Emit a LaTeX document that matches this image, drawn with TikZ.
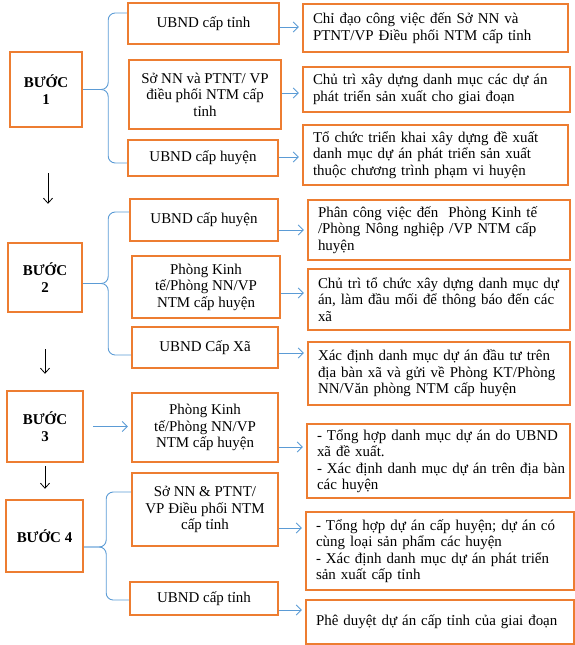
\documentclass[tikz,border=0pt]{standalone}
\usepackage{fontspec}
\setmainfont{Liberation Serif}
\usetikzlibrary{arrows.meta}
\definecolor{boxorange}{RGB}{237,125,49}
\definecolor{linkblue}{RGB}{91,155,213}
\newcommand\fullline[1]{\makebox[\hsize][s]{#1}}

\begin{document}
\begin{tikzpicture}[
    x=1bp, y=1bp,
    every node/.style={font=\fontsize{15}{16.5}\selectfont},
    box/.style={rectangle, draw=boxorange, line width=2.4bp, align=center, inner sep=0pt},
    stepbox/.style={box, font=\fontsize{15}{17}\selectfont\bfseries},
    task/.style={box, align=left, inner xsep=10bp},
    link/.style={draw=linkblue, line width=0.9bp, rounded corners=7bp},
    go/.style={link, -{Straight Barb[length=5bp,width=10bp]}, shorten >=3bp},
    down/.style={draw=black, line width=0.8bp, -{Straight Barb[length=5bp,width=9bp]}}
]
  \useasboundingbox (0,0) rectangle (575,-645);

  % steps
  \node[stepbox, minimum width=72bp, minimum height=75bp] (s1) at (46,-89.5) {BƯỚC\\1};
  \node[stepbox, minimum width=74bp, minimum height=69bp] (s2) at (45,-277.5) {BƯỚC\\2};
  \node[stepbox, minimum width=76bp, minimum height=71bp] (s3) at (45,-426.5) {BƯỚC\\3};
  \node[stepbox, minimum width=77bp, minimum height=72bp] (s4) at (44.5,-536) {BƯỚC 4};

  % who
  \node[box, minimum width=151bp, minimum height=41bp] (a1) at (203.5,-23.5) {UBND cấp tỉnh};
  \node[box, minimum width=152bp, minimum height=69bp] (a2) at (205,-94.5) {Sở NN và PTNT/ VP\\điều phối NTM cấp\\tỉnh};
  \node[box, minimum width=150bp, minimum height=36bp] (a3) at (203,-158) {UBND cấp huyện};
  \node[box, minimum width=148bp, minimum height=42bp] (b1) at (204,-220) {UBND cấp huyện};
  \node[box, minimum width=148bp, minimum height=62bp] (b2) at (206,-287) {Phòng Kinh\\tế/Phòng NN/VP\\NTM cấp huyện};
  \node[box, minimum width=146bp, minimum height=41bp] (b3) at (205,-347.5) {UBND Cấp Xã};
  \node[box, minimum width=146bp, minimum height=69bp] (c1) at (205,-427.5) {Phòng Kinh\\tế/Phòng NN/VP\\NTM cấp huyện};
  \node[box, minimum width=146bp, minimum height=73bp] (d1) at (205,-509.5) {Sở NN \& PTNT/\\VP Điều phối NTM\\cấp tỉnh};
  \node[box, minimum width=148bp, minimum height=33bp] (d2) at (204,-598.5) {UBND cấp tỉnh};

  % what
  \node[task, text width=245bp, minimum height=48bp] (r1a) at (435.5,-28) {Chỉ đạo công việc đến Sở NN và\\PTNT/VP Điều phối NTM cấp tỉnh};
  \node[task, text width=247bp, minimum height=45bp] (r1b) at (436.5,-89.5) {Chủ trì xây dựng danh mục các dự án\\phát triển sản xuất cho giai đoạn};
  \node[task, text width=245bp, minimum height=60bp] (r1c) at (435.5,-155) {Tổ chức triển khai xây dựng đề xuất\\danh mục dự án phát triển sản xuất\\thuộc chương trình phạm vi huyện};
  \node[task, text width=242bp, minimum height=60bp] (r2a) at (439,-230) {Phân công việc đến~ Phòng Kinh tế\\/Phòng Nông nghiệp /VP NTM cấp\\huyện};
  \node[task, text width=242bp, minimum height=61bp] (r2b) at (439,-299.5) {Chủ trì tổ chức xây dựng danh mục dự\\án, làm đầu mối để thông báo đến các\\xã};
  \node[task, text width=242bp, minimum height=63bp] (r2c) at (439,-373.5) {Xác định danh mục dự án đầu tư trên\\địa bàn xã và gửi về Phòng KT/Phòng\\NN/Văn phòng NTM cấp huyện};
  \node[task, text width=243bp, minimum height=74bp] (r3) at (438.5,-461) {\fullline{- Tổng hợp danh mục dự án do UBND}\\xã đề xuất.\\\fullline{- Xác định danh mục dự án trên địa bàn}\\các huyện};
  \node[task, text width=248bp, minimum height=78bp] (r4a) at (440,-551) {\fullline{- Tổng hợp dự án cấp huyện; dự án có}\\cùng loại sản phẩm các huyện\\\fullline{- Xác định danh mục dự án phát triển}\\sản xuất cấp tỉnh};
  \node[task, text width=248bp, minimum height=44bp] (r4b) at (440,-622) {Phê duyệt dự án cấp tỉnh của giai đoạn};

  % braces
  \draw[link] (s1.east) -- ++(25,0) |- ([yshift=10.5bp]a1.west);
  \draw[link] (s1.east) -- ++(25,0) |- ([yshift=-5bp]a3.west);
  \draw[link] ([yshift=-6bp]s2.east) -- ++(25,0) |- ([yshift=8bp]b1.west);
  \draw[link] ([yshift=-6bp]s2.east) -- ++(25,0) |- ([yshift=-7.5bp]b3.west);
  \draw[link] ([yshift=-11bp]s4.east) -- ++(22,0) |- ([yshift=17.5bp]d1.west);
  \draw[link] ([yshift=-11bp]s4.east) -- ++(22,0) |- ([yshift=-1.5bp]d2.west);
  \draw[go, shorten <=9bp] (s3.east) -- (s3.east -| c1.west);

  % arrows to tasks
  \foreach \from/\to/\dy in {a1/r1a/-3.5, a2/r1b/1.5, a3/r1c/1, b1/r2a/-10, b2/r2b/-6,
      b3/r2c/-5.5, c1/r3/-19.5, d1/r4a/-18.5, d2/r4b/-11.5}
    \draw[go] ([yshift=\dy bp]\from.east) -- ([yshift=\dy bp]\from.east -| \to.west);

  % next step
  \draw[down, shorten <=45bp, shorten >=38bp] ([xshift=2bp]s1.south) -- ([xshift=2bp]s1.south |- s2.north);
  \draw[down, shorten <=36bp, shorten >=16bp] (s2.south) -- (s2.south |- s3.north);
  \draw[down, shorten <=3bp, shorten >=10bp] (s3.south) -- (s3.south |- s4.north);

\end{tikzpicture}
\end{document}
